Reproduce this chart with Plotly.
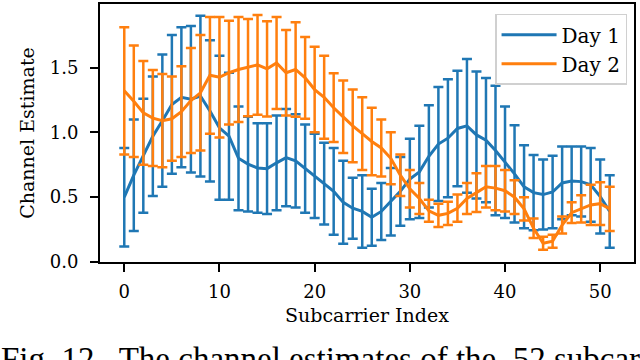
import plotly.graph_objects as go

subcarrier = list(range(52))

day1_mean = [0.50, 0.67, 0.82, 0.97, 1.09, 1.215, 1.27, 1.255, 1.28, 1.165,
             1.035, 0.97, 0.80, 0.755, 0.725, 0.72, 0.765, 0.805, 0.78, 0.72,
             0.665, 0.605, 0.545, 0.46, 0.415, 0.39, 0.345, 0.39, 0.465, 0.545,
             0.64, 0.695, 0.815, 0.91, 0.955, 1.03, 1.05, 0.98, 0.94, 0.86,
             0.77, 0.68, 0.58, 0.535, 0.52, 0.54, 0.61, 0.625, 0.62, 0.595,
             0.505, 0.39]
day1_std = [0.38, 0.43, 0.44, 0.46, 0.51, 0.535, 0.54, 0.565, 0.62, 0.545,
            0.555, 0.49, 0.40, 0.365, 0.345, 0.35, 0.365, 0.375, 0.36, 0.34,
            0.325, 0.315, 0.335, 0.32, 0.235, 0.28, 0.22, 0.22, 0.26, 0.265,
            0.31, 0.355, 0.395, 0.44, 0.455, 0.445, 0.515, 0.49, 0.48, 0.50,
            0.43, 0.375, 0.32, 0.29, 0.27, 0.28, 0.28, 0.265, 0.27, 0.285,
            0.285, 0.28]

day2_mean = [1.32, 1.24, 1.15, 1.11, 1.09, 1.105, 1.16, 1.245, 1.305, 1.44,
             1.425, 1.46, 1.485, 1.50, 1.52, 1.49, 1.535, 1.46, 1.485, 1.42,
             1.33, 1.27, 1.19, 1.12, 1.05, 0.99, 0.93, 0.88, 0.80, 0.67,
             0.565, 0.49, 0.395, 0.36, 0.375, 0.415, 0.49, 0.535, 0.58, 0.57,
             0.55, 0.50, 0.41, 0.26, 0.145, 0.16, 0.285, 0.38, 0.41, 0.44,
             0.45, 0.41]
day2_std = [0.49, 0.43, 0.40, 0.37, 0.36, 0.325, 0.35, 0.405, 0.445, 0.45,
            0.465, 0.40, 0.405, 0.375, 0.385, 0.367, 0.355, 0.33, 0.365, 0.315,
            0.33, 0.32, 0.265, 0.28, 0.28, 0.28, 0.26, 0.22, 0.20, 0.16,
            0.145, 0.12, 0.085, 0.09, 0.09, 0.105, 0.12, 0.15, 0.16, 0.17,
            0.16, 0.13, 0.09, 0.075, 0.05, 0.05, 0.065, 0.08, 0.105, 0.155,
            0.165, 0.17]

font = "DejaVu Serif"

fig = go.Figure()
for name, mean, std, color in [("Day 1", day1_mean, day1_std, "#1f77b4"),
                               ("Day 2", day2_mean, day2_std, "#ff7f0e")]:
    fig.add_trace(go.Scatter(
        x=subcarrier, y=mean, name=name, mode="lines",
        line=dict(color=color, width=3),
        error_y=dict(type="data", array=std, visible=True,
                     color=color, thickness=2.5, width=5),
    ))

axis_style = dict(showline=True, linecolor="black", linewidth=2, mirror=True,
                  ticks="outside", ticklen=8, tickwidth=2, tickcolor="black",
                  showgrid=False, zeroline=False, automargin=True,
                  tickfont=dict(family=font, size=18, color="black"))

fig.update_xaxes(range=[-2.55, 53.55], tickvals=[0, 10, 20, 30, 40, 50],
                 ticklabelstandoff=4,
                 title=dict(text="Subcarrier Index", standoff=8,
                            font=dict(family=font, size=19, color="black")),
                 **axis_style)
fig.update_yaxes(range=[0, 1.99], tickvals=[0, 0.5, 1.0, 1.5],
                 ticktext=["0.0", "0.5", "1.0", "1.5"], ticklabelstandoff=8,
                 title=dict(text="Channel Estimate", standoff=10,
                            font=dict(family=font, size=19, color="black")),
                 **axis_style)

# caption sits at the bottom edge, only its upper part is visible
fig.add_annotation(
    text="Fig. 12.  The channel estimates of the  52 subcarriers in day 1 and day 2",
    xref="paper", yref="paper", x=-0.19, y=-0.298, xanchor="left", yanchor="top",
    showarrow=False, font=dict(family="Liberation Serif", size=33, color="black"))

fig.update_layout(
    width=640, height=360,
    margin=dict(l=100, r=6, t=2, b=98),
    plot_bgcolor="white", paper_bgcolor="white",
    showlegend=True,
    legend=dict(x=0.987, y=0.962, xanchor="right", yanchor="top", itemwidth=55,
                bgcolor="rgba(255,255,255,0.8)", bordercolor="#d0d0d0",
                borderwidth=1.5, font=dict(family=font, size=20, color="black")),
)

fig.write_html("out.html", config={"displayModeBar": False},
               post_script="document.body.style.margin='0';")
